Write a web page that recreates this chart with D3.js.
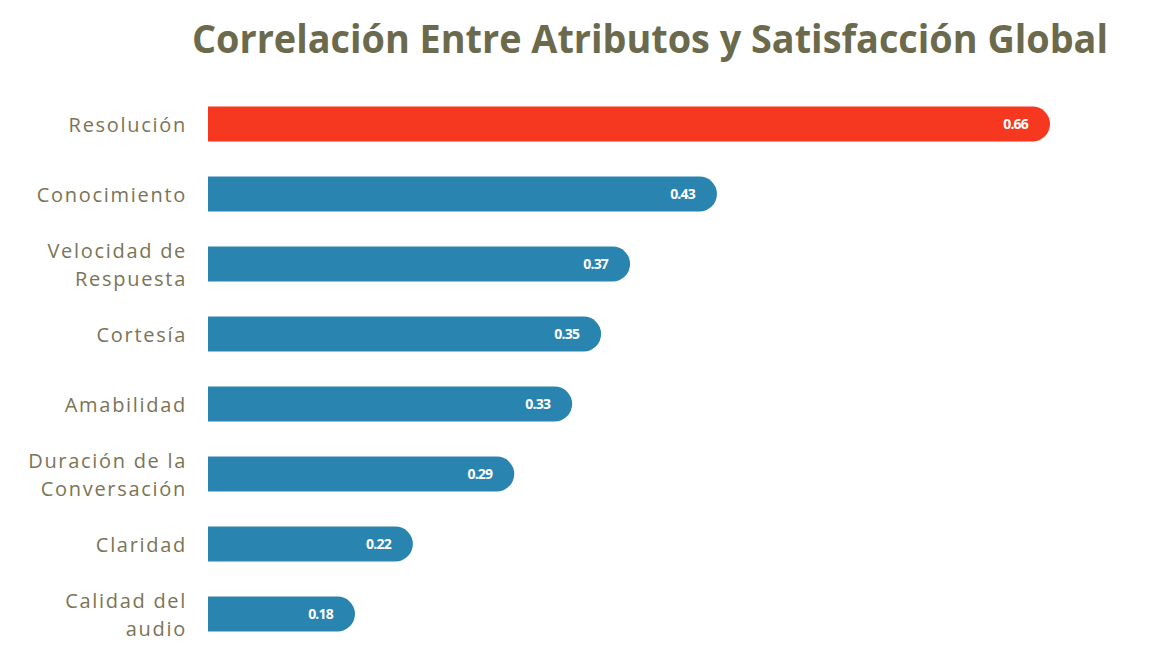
<!DOCTYPE html>
<html><head><meta charset="utf-8">
<script src="https://cdn.jsdelivr.net/npm/d3@7"></script>
<style>body{margin:0;background:#fff;}</style>
</head><body><svg id="c" width="1151" height="671"></svg>
<script>
const categories = [["Resolución"],["Conocimiento"],["Velocidad de","Respuesta"],["Cortesía"],["Amabilidad"],["Duración de la","Conversación"],["Claridad"],["Calidad del","audio"]];
const values = [0.66,0.43,0.37,0.35,0.33,0.29,0.22,0.18];
const highlight = [true,false,false,false,false,false,false,false];
const title = "Correlación Entre Atributos y Satisfacción Global";

const svg = d3.select("#c");
const x = d3.scaleLinear().domain([0.0785,0.66]).range([208,1050]);
const y = d3.scaleBand().domain(d3.range(values.length)).range([89,649]).paddingInner(0.5).paddingOuter(0.25);

svg.append("text").attr("x",650).attr("y",53).attr("text-anchor","middle")
  .attr("font-family","Open Sans").attr("font-weight","bold").attr("font-size",39)
  .attr("fill","#6b6a4c").attr("textLength",916).attr("lengthAdjust","spacingAndGlyphs").text(title);

const g = svg.selectAll("g.bar").data(values).join("g");
g.append("path").attr("fill",(d,i)=>highlight[i]?"#f5381f":"#2a84b0")
  .attr("d",(d,i)=>{
    const x0=x.range()[0], x1=x(d), y0=y(i), h=y.bandwidth(), r=h/2;
    return `M${x0},${y0}H${x1-r}A${r},${r} 0 0 1 ${x1},${y0+r}A${r},${r} 0 0 1 ${x1-r},${y0+h}H${x0}Z`;
  });
g.append("text").attr("x",d=>x(d)-22).attr("y",(d,i)=>y(i)+y.bandwidth()/2+5)
  .attr("text-anchor","end").attr("font-family","Open Sans").attr("font-weight","bold")
  .attr("font-size",14).attr("letter-spacing",-0.8).attr("fill","#fff").text(d=>d.toFixed(2));

const lab = svg.selectAll("text.lab").data(categories).join("text").attr("class","lab")
  .attr("text-anchor","end").attr("font-family","Open Sans").attr("font-size",20)
  .attr("letter-spacing",1.7).attr("fill","#7a7456");
lab.each(function(lines,i){
  const t=d3.select(this); const cy=y(i)+y.bandwidth()/2;
  const n=lines.length;
  lines.forEach((l,k)=>{
    t.append("tspan").attr("x",187).attr("y",cy+8+(k-(n-1)/2)*27.5).text(l);
  });
});
</script></body></html>
